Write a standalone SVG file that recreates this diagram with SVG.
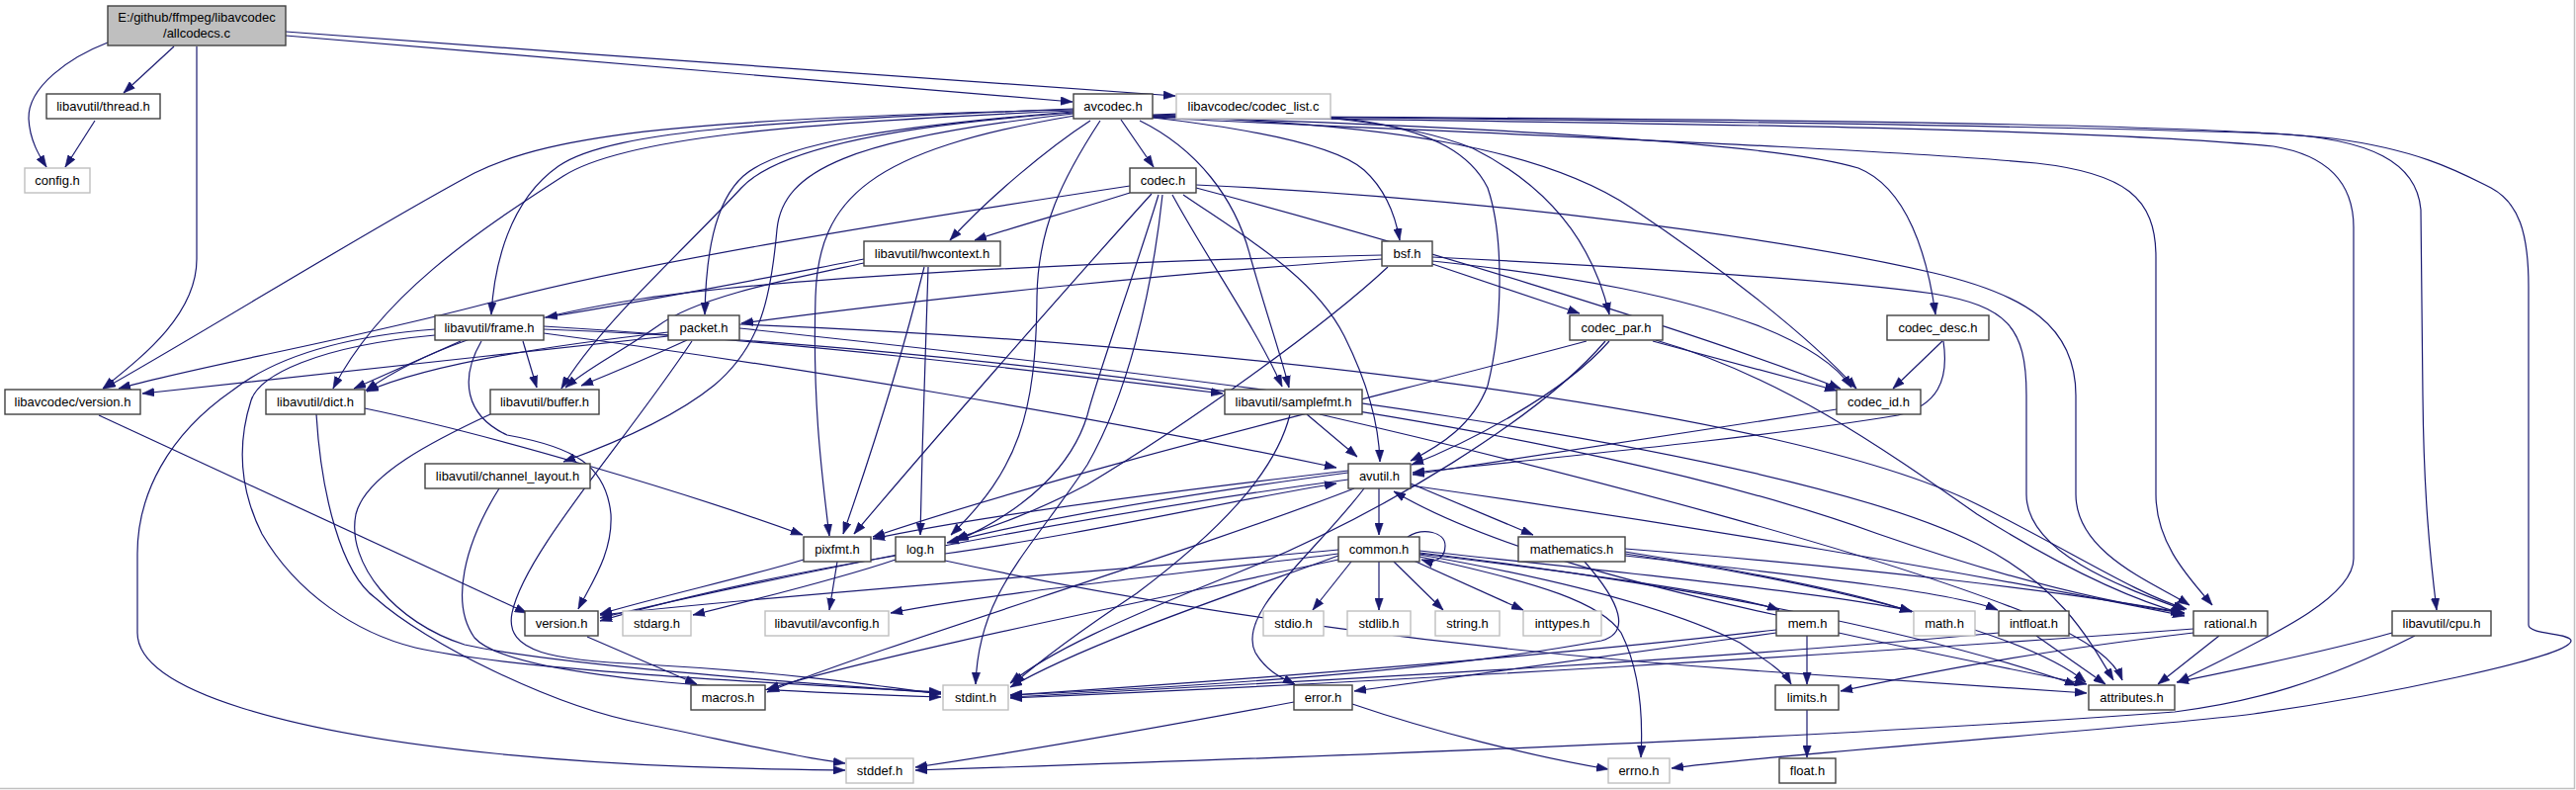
<svg xmlns="http://www.w3.org/2000/svg" width="2606" height="799" viewBox="0 0 2606 799">
<style>
.n rect{fill:#fff;stroke:#404040;stroke-width:1.4}
.g rect{fill:#fff;stroke:#bfbfbf;stroke-width:1.4}
.r rect{fill:#bfbfbf;stroke:#404040;stroke-width:1.4}
text{font-family:"Liberation Sans",Arial,sans-serif;font-size:13px;text-anchor:middle;fill:#000}
#edges path{fill:none;stroke:#191970;stroke-width:1.2;marker-end:url(#a)}
</style>
<defs>
<marker id="a" viewBox="0 0 10 7" refX="10" refY="3.5" markerWidth="12" markerHeight="9" markerUnits="userSpaceOnUse" orient="auto">
<path d="M0,0 L10,3.5 L0,7z" fill="#191970" stroke="#191970" stroke-width="0.5"/>
</marker>
</defs>
<rect x="0" y="0" width="2606" height="799" fill="#fff"/>
<line x1="2604.5" y1="0" x2="2604.5" y2="798" stroke="#c0c0c0" stroke-width="1.5"/>
<line x1="0" y1="797.5" x2="2605" y2="797.5" stroke="#c0c0c0" stroke-width="1.5"/>
<g id="edges">
<path d="M109,43 C70,58 28,88 29,120 C30,142 40,158 47,169"/>
<path d="M176,47 L125,94"/>
<path d="M199,47 L199,262 C199,318 145,360 104,393"/>
<path d="M289,36 C600,62 900,88 1085,103"/>
<path d="M289,32 C600,55 1000,85 1189,97"/>
<path d="M96,122 L66,169"/>
<path d="M1134,121 L1167,169"/>
<path d="M1103,122 C1060,150 1000,200 961,243"/>
<path d="M1086,113 C900,128 790,145 752,178 C722,205 714,260 713,318"/>
<path d="M1086,110 C800,122 620,130 565,168 C515,203 500,268 497,318"/>
<path d="M1086,111 C700,120 560,135 480,175 C380,228 200,340 105,393"/>
<path d="M1086,112 C800,124 630,140 570,178 C480,236 385,300 337,393"/>
<path d="M1086,114 C900,127 785,152 750,190 C690,255 605,330 568,393"/>
<path d="M1086,115 C860,140 792,172 786,232 C780,300 770,350 722,390 C685,420 625,447 570,467"/>
<path d="M1087,117 C880,152 828,200 825,300 C822,400 830,470 839,542"/>
<path d="M1113,122 C1075,180 1050,230 1049,300 C1048,420 1030,475 962,541"/>
<path d="M1153,122 C1210,150 1250,200 1265,260 C1282,320 1296,360 1304,392"/>
<path d="M1166,117 C1350,110 1470,120 1505,190 C1522,240 1520,330 1505,390 C1490,430 1458,450 1427,466"/>
<path d="M1166,119 C1280,132 1355,150 1380,172 C1402,192 1412,220 1416,243"/>
<path d="M1166,116 C1300,110 1420,122 1490,150 C1560,185 1610,240 1628,318"/>
<path d="M1166,118 C1400,124 1560,150 1650,210 C1740,270 1830,340 1878,393"/>
<path d="M1166,118 C1500,128 1800,145 1880,170 C1930,190 1950,260 1958,318"/>
<path d="M1166,119 C1500,135 1900,150 2060,165 C2150,175 2181,200 2181,260 L2181,500 C2181,550 2215,585 2238,612"/>
<path d="M1166,117 C1500,120 2000,125 2300,135 C2400,140 2445,165 2449,212 L2451,400 C2452,500 2458,560 2465,617"/>
<path d="M1166,118 C1600,124 2100,128 2300,148 C2360,158 2381,190 2381,230 L2381,565 C2381,610 2270,655 2203,690"/>
<path d="M1166,117 C1600,120 2200,122 2360,140 C2450,152 2490,175 2520,190 C2548,205 2558,235 2558,290 L2558,632 C2558,642 2601,640 2601,648 C2601,665 2400,705 2280,722 C2150,738 1800,762 1691,777"/>
<path d="M1143,195 C1080,215 1030,228 986,243"/>
<path d="M1143,188 C900,225 650,265 500,305 C350,345 200,370 120,393"/>
<path d="M1165,196 C1080,290 940,450 864,540"/>
<path d="M1172,197 C1150,270 1110,380 1100,420 C1085,470 1040,515 968,547"/>
<path d="M1176,197 C1165,300 1140,400 1100,470 C1040,560 990,600 987,692"/>
<path d="M1197,197 C1260,240 1330,280 1360,340 C1385,390 1395,430 1396,467"/>
<path d="M1186,197 C1220,260 1270,330 1297,391"/>
<path d="M1210,187 C1500,200 1800,240 1956,276 C2050,298 2100,330 2100,400 L2100,500 C2100,560 2180,590 2215,612"/>
<path d="M1210,190 C1400,240 1700,330 1862,393"/>
<path d="M874,262 C780,280 680,300 552,321"/>
<path d="M874,266 C800,282 705,300 665,330 C625,358 595,372 572,392"/>
<path d="M939,270 C936,350 933,450 931,541"/>
<path d="M935,270 C920,330 895,420 853,540"/>
<path d="M1398,262 C1200,275 950,300 750,327"/>
<path d="M1398,258 C1100,265 800,280 650,302 C500,325 420,360 370,395"/>
<path d="M1404,270 C1340,330 1200,430 1100,490 C1040,522 990,537 966,545"/>
<path d="M1449,260 C1650,270 1850,282 1956,297 C2030,310 2050,330 2050,400 L2050,500 C2050,560 2150,595 2210,617"/>
<path d="M1449,264 C1600,280 1700,300 1780,330 C1830,350 1860,372 1873,392"/>
<path d="M1449,267 L1598,317"/>
<path d="M1672,345 L1858,395"/>
<path d="M1675,344 C1800,380 1900,450 2000,520 C2080,570 2150,605 2210,621"/>
<path d="M1628,345 C1580,400 1480,450 1428,470"/>
<path d="M1624,345 C1560,420 1400,520 1250,580 C1130,628 1060,660 1022,691"/>
<path d="M1605,345 C1400,400 1100,470 883,543"/>
<path d="M1965,345 L1915,393"/>
<path d="M1966,345 C1972,385 1960,410 1920,420 C1800,440 1600,460 1429,478"/>
<path d="M1858,414 C1700,438 1550,462 1429,480"/>
<path d="M529,345 L543,392"/>
<path d="M466,345 L358,393"/>
<path d="M487,345 C465,383 470,420 513,440 C580,452 613,470 618,520 C620,560 598,590 585,616"/>
<path d="M550,337 C800,370 1100,420 1352,473"/>
<path d="M550,333 C1000,350 1600,430 1900,540 C2050,592 2150,612 2208,620"/>
<path d="M550,330 C800,345 1050,375 1237,398"/>
<path d="M440,333 C350,340 280,360 235,395 C170,440 139,500 139,560 L139,640 C139,700 300,742 500,762 C650,777 780,778 855,779"/>
<path d="M440,339 C320,350 262,380 254,405 C238,455 245,500 265,540 C300,600 360,640 420,655 C520,678 800,692 952,700"/>
<path d="M676,340 C500,360 300,380 144,398"/>
<path d="M676,336 C550,350 430,370 371,396"/>
<path d="M695,344 C660,360 625,375 588,390"/>
<path d="M700,345 C630,450 530,560 518,620 C510,660 560,668 652,672 C800,680 900,695 952,702"/>
<path d="M748,332 C1200,380 1800,450 2000,550 C2080,590 2110,640 2138,688"/>
<path d="M748,328 C1200,345 1800,410 2000,510 C2100,560 2160,600 2212,616"/>
<path d="M320,419 C325,500 345,580 380,605 C430,650 560,715 652,732 C740,750 800,765 855,772"/>
<path d="M369,413 C500,440 700,500 812,541"/>
<path d="M496,419 C440,445 370,480 360,520 C350,570 400,630 470,652 C560,672 800,690 952,701"/>
<path d="M505,494 C470,550 455,610 480,645 C520,690 800,700 952,705"/>
<path d="M1322,419 L1373,462"/>
<path d="M1305,419 C1290,480 1230,540 1150,600 C1090,640 1050,670 1025,692"/>
<path d="M1335,419 C1600,480 1900,560 2050,620 C2120,650 2140,670 2147,688"/>
<path d="M1395,494 L1395,541"/>
<path d="M1427,489 L1551,541"/>
<path d="M1427,491 C1700,530 2000,580 2210,623"/>
<path d="M1380,494 C1330,560 1250,620 1270,660 C1282,680 1298,686 1310,692"/>
<path d="M1364,485 C1100,520 800,580 607,625"/>
<path d="M1370,494 C1200,560 900,650 776,700"/>
<path d="M1364,478 C1200,500 1050,525 958,549"/>
<path d="M1364,476 C1200,495 1000,520 883,545"/>
<path d="M956,560 C1100,540 1250,505 1352,489"/>
<path d="M906,566 C850,585 770,605 701,622"/>
<path d="M906,562 C800,580 700,600 607,628"/>
<path d="M956,567 C1200,620 1500,660 1800,680 C1950,690 2050,696 2111,701"/>
<path d="M847,568 L839,617"/>
<path d="M813,566 C750,585 680,600 607,621"/>
<path d="M1424,543 C1440,533 1462,538 1462,552 C1462,566 1450,570 1438,566"/>
<path d="M1367,568 L1328,617"/>
<path d="M1395,568 L1395,617"/>
<path d="M1410,568 L1460,617"/>
<path d="M1430,567 L1541,617"/>
<path d="M1436,560 C1600,580 1750,600 1800,617"/>
<path d="M1436,557 C1650,580 1850,600 1934,618"/>
<path d="M1436,561 C1600,590 1700,620 1760,650 C1790,670 1805,680 1812,692"/>
<path d="M1436,563 C1560,590 1620,610 1640,640 C1660,680 1662,730 1660,766"/>
<path d="M1436,559 C1700,590 1950,640 2101,693"/>
<path d="M1354,562 C1250,600 1100,650 1022,695"/>
<path d="M1354,566 C1150,610 900,660 776,697"/>
<path d="M1354,556 C1100,580 800,600 607,622"/>
<path d="M1354,560 C1200,580 1000,600 901,620"/>
<path d="M1603,568 C1640,610 1650,640 1620,648 C1450,680 1200,695 1022,703"/>
<path d="M1644,558 C1780,580 1880,600 1934,619"/>
<path d="M1644,560 C1850,590 2050,640 2110,690"/>
<path d="M1644,555 C1900,575 2100,600 2210,620"/>
<path d="M1644,562 C1850,585 1980,600 2021,617"/>
<path d="M1828,643 L1828,692"/>
<path d="M1797,637 C1600,660 1300,685 1022,703"/>
<path d="M1797,640 C1650,660 1500,680 1370,699"/>
<path d="M1860,640 C1950,660 2050,680 2111,692"/>
<path d="M1797,622 C1650,590 1500,550 1410,497"/>
<path d="M2060,643 L2130,692"/>
<path d="M2022,640 C1700,670 1300,690 1022,705"/>
<path d="M2245,643 L2183,692"/>
<path d="M2219,640 C2050,660 1950,680 1862,699"/>
<path d="M2219,636 C1900,660 1400,690 1022,706"/>
<path d="M1368,712 C1450,740 1550,765 1627,778"/>
<path d="M1309,710 C1150,740 1000,765 926,776"/>
<path d="M1828,718 L1828,766"/>
<path d="M2420,640 C2350,660 2250,680 2202,690"/>
<path d="M2443,643 C2350,690 2280,710 2200,720 C1800,750 1200,770 926,779"/>
<path d="M594,644 L705,692"/>
<path d="M100,420 L533,620"/>
</g>
<g id="n_allcodecs" class="r"><rect x="109" y="6" width="180" height="40"/><text x="199" y="22">E:/github/ffmpeg/libavcodec</text><text x="199" y="38">/allcodecs.c</text></g>
<g id="n_thread" class="n"><rect x="47" y="95" width="115" height="25"/><text x="104.5" y="112">libavutil/thread.h</text></g>
<g id="n_config" class="g"><rect x="25" y="170" width="66" height="25"/><text x="58" y="187">config.h</text></g>
<g id="n_avcodec" class="n"><rect x="1086" y="95" width="80" height="25"/><text x="1126" y="112">avcodec.h</text></g>
<g id="n_codec_list" class="g"><rect x="1190" y="95" width="156" height="25"/><text x="1268" y="112">libavcodec/codec_list.c</text></g>
<g id="n_codec" class="n"><rect x="1143" y="170" width="67" height="25"/><text x="1176.5" y="187">codec.h</text></g>
<g id="n_hwcontext" class="n"><rect x="874" y="244" width="138" height="25"/><text x="943" y="261">libavutil/hwcontext.h</text></g>
<g id="n_bsf" class="n"><rect x="1398" y="244" width="51" height="25"/><text x="1423.5" y="261">bsf.h</text></g>
<g id="n_frame" class="n"><rect x="440" y="319" width="110" height="25"/><text x="495" y="336">libavutil/frame.h</text></g>
<g id="n_packet" class="n"><rect x="676" y="319" width="72" height="25"/><text x="712" y="336">packet.h</text></g>
<g id="n_codec_par" class="n"><rect x="1588" y="319" width="94" height="25"/><text x="1635" y="336">codec_par.h</text></g>
<g id="n_codec_desc" class="n"><rect x="1909" y="319" width="103" height="25"/><text x="1960.5" y="336">codec_desc.h</text></g>
<g id="n_lavc_version" class="n"><rect x="5" y="394" width="137" height="25"/><text x="73.5" y="411">libavcodec/version.h</text></g>
<g id="n_dict" class="n"><rect x="269" y="394" width="100" height="25"/><text x="319" y="411">libavutil/dict.h</text></g>
<g id="n_buffer" class="n"><rect x="496" y="394" width="110" height="25"/><text x="551" y="411">libavutil/buffer.h</text></g>
<g id="n_samplefmt" class="n"><rect x="1239" y="394" width="139" height="25"/><text x="1308.5" y="411">libavutil/samplefmt.h</text></g>
<g id="n_codec_id" class="n"><rect x="1858" y="394" width="85" height="25"/><text x="1900.5" y="411">codec_id.h</text></g>
<g id="n_channel_layout" class="n"><rect x="430" y="469" width="167" height="25"/><text x="513.5" y="486">libavutil/channel_layout.h</text></g>
<g id="n_avutil" class="n"><rect x="1364" y="469" width="63" height="25"/><text x="1395.5" y="486">avutil.h</text></g>
<g id="n_pixfmt" class="n"><rect x="813" y="543" width="68" height="25"/><text x="847" y="560">pixfmt.h</text></g>
<g id="n_log" class="n"><rect x="906" y="543" width="50" height="25"/><text x="931" y="560">log.h</text></g>
<g id="n_common" class="n"><rect x="1354" y="543" width="82" height="25"/><text x="1395" y="560">common.h</text></g>
<g id="n_mathematics" class="n"><rect x="1536" y="543" width="108" height="25"/><text x="1590" y="560">mathematics.h</text></g>
<g id="n_version" class="n"><rect x="531" y="618" width="74" height="25"/><text x="568" y="635">version.h</text></g>
<g id="n_stdarg" class="g"><rect x="630" y="618" width="69" height="25"/><text x="664.5" y="635">stdarg.h</text></g>
<g id="n_avconfig" class="g"><rect x="774" y="618" width="125" height="25"/><text x="836.5" y="635">libavutil/avconfig.h</text></g>
<g id="n_stdio" class="g"><rect x="1278" y="618" width="61" height="25"/><text x="1308.5" y="635">stdio.h</text></g>
<g id="n_stdlib" class="g"><rect x="1363" y="618" width="64" height="25"/><text x="1395" y="635">stdlib.h</text></g>
<g id="n_string" class="g"><rect x="1452" y="618" width="65" height="25"/><text x="1484.5" y="635">string.h</text></g>
<g id="n_inttypes" class="g"><rect x="1541" y="618" width="79" height="25"/><text x="1580.5" y="635">inttypes.h</text></g>
<g id="n_mem" class="n"><rect x="1797" y="618" width="63" height="25"/><text x="1828.5" y="635">mem.h</text></g>
<g id="n_math" class="g"><rect x="1936" y="618" width="62" height="25"/><text x="1967" y="635">math.h</text></g>
<g id="n_intfloat" class="n"><rect x="2022" y="618" width="71" height="25"/><text x="2057.5" y="635">intfloat.h</text></g>
<g id="n_rational" class="n"><rect x="2219" y="618" width="75" height="25"/><text x="2256.5" y="635">rational.h</text></g>
<g id="n_cpu" class="n"><rect x="2420" y="618" width="100" height="25"/><text x="2470" y="635">libavutil/cpu.h</text></g>
<g id="n_macros" class="n"><rect x="699" y="693" width="75" height="25"/><text x="736.5" y="710">macros.h</text></g>
<g id="n_stdint" class="g"><rect x="954" y="693" width="66" height="25"/><text x="987" y="710">stdint.h</text></g>
<g id="n_error" class="n"><rect x="1309" y="693" width="59" height="25"/><text x="1338.5" y="710">error.h</text></g>
<g id="n_limits" class="n"><rect x="1796" y="693" width="64" height="25"/><text x="1828" y="710">limits.h</text></g>
<g id="n_attributes" class="n"><rect x="2113" y="693" width="87" height="25"/><text x="2156.5" y="710">attributes.h</text></g>
<g id="n_stddef" class="g"><rect x="856" y="767" width="68" height="25"/><text x="890" y="784">stddef.h</text></g>
<g id="n_errno" class="g"><rect x="1627" y="767" width="62" height="25"/><text x="1658" y="784">errno.h</text></g>
<g id="n_float" class="n"><rect x="1800" y="767" width="57" height="25"/><text x="1828.5" y="784">float.h</text></g>
</svg>
